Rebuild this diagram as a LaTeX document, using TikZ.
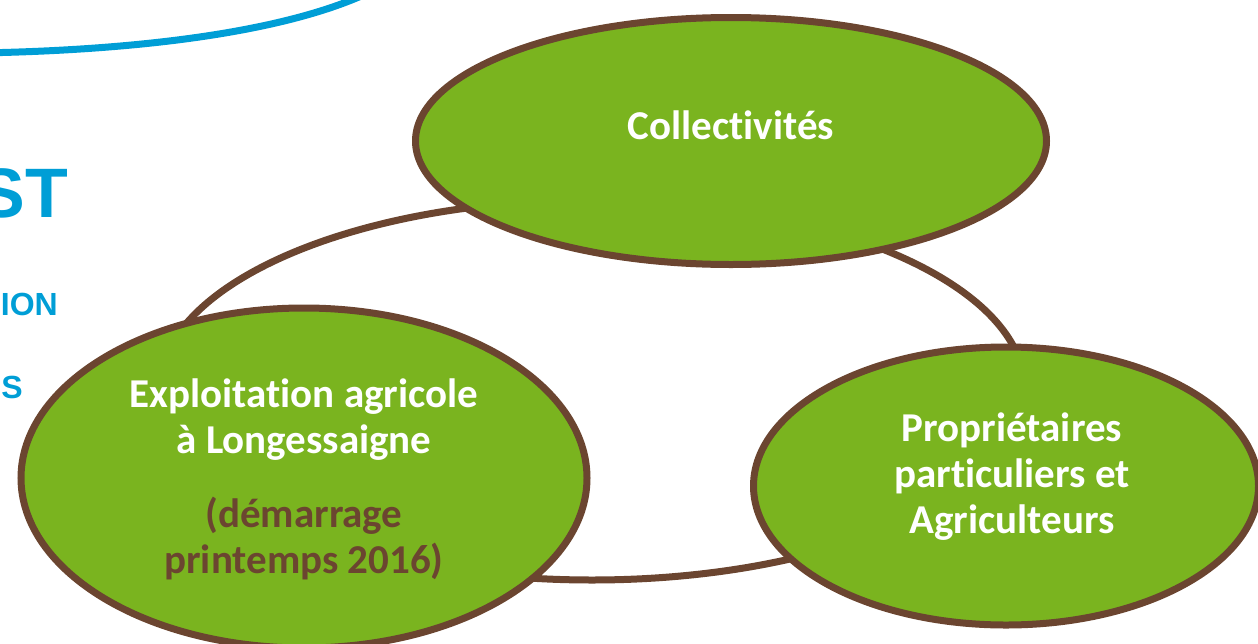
\documentclass[tikz,border=0pt]{standalone}
\usepackage{fontspec}
\setmainfont{Carlito}[Ligatures=NoCommon]
\newfontfamily\headfont{Liberation Sans}
\usetikzlibrary{shapes.geometric,positioning}
\definecolor{leafgreen}{RGB}{122,180,31}
\definecolor{barkbrown}{RGB}{107,69,48}
\definecolor{skyblue}{RGB}{0,158,214}

\begin{document}
\begin{tikzpicture}[x=1pt,y=-1pt,
	ring/.style={ellipse,draw=barkbrown,line width=7pt,fill=white,inner sep=0pt},
	bubble/.style={ellipse,draw=barkbrown,line width=7pt,fill=leafgreen,inner sep=0pt},
	whitetext/.style={text=white,font=\bfseries\fontsize{41}{46}\selectfont,align=center},
	browntext/.style={text=barkbrown,font=\bfseries\fontsize{41}{46}\selectfont,align=center},
	bigblue/.style={text=skyblue,inner sep=0pt,anchor=base east,font=\headfont\bfseries\fontsize{70}{80}\selectfont},
	smallblue/.style={text=skyblue,inner sep=0pt,anchor=base east,font=\headfont\bfseries\fontsize{32}{38}\selectfont}]
	\clip (0,0) rectangle (1258,643);
	% blue frame at the top left
	\coordinate (arcstart) at (-20,53);
	\coordinate (arcend) at (370,-8);
	\draw[skyblue,line width=7pt] (arcstart) .. controls (150,50) and (290,30) .. (arcend);
	\node (st) at (68,217) [bigblue] {ST};
	\node (ion) at (58,315) [smallblue] {ION};
	\node (s) at (23,398) [smallblue] {S};
	% ring behind the three bubbles
	\node (ring) at (592,390) [ring,minimum width=866pt,minimum height=380pt] {};
	\node (collect) at (731,141) [bubble,minimum width=631pt,minimum height=247pt] {};
	\node (farm) at (304,478) [bubble,minimum width=566pt,minimum height=340pt] {};
	\node (owners) at (1006,486) [bubble,minimum width=505pt,minimum height=278pt] {};
	% labels (base = last line)
	\node (collecttext) at (731,139) [whitetext,anchor=base] {Collectivités};
	\node (farmtext) at (304,453) [whitetext,anchor=base] {Exploitation agricole\\à Longessaigne};
	\node (farmdate) at (304,573) [browntext,anchor=base] {(démarrage\\printemps 2016)};
	\node (ownerstext) at (1012,533) [whitetext,anchor=base] {Propriétaires\\particuliers et\\Agriculteurs};
\end{tikzpicture}
\end{document}
